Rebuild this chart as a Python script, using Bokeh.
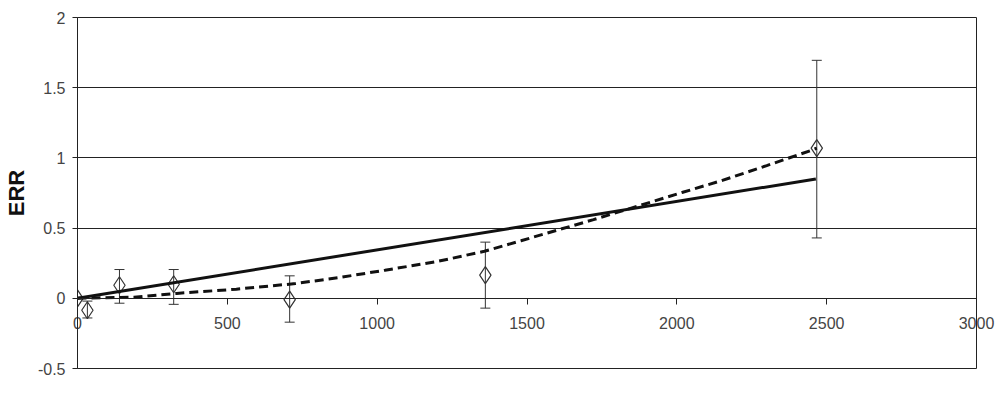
from bokeh.plotting import figure
from bokeh.models import (Whisker, ColumnDataSource, FixedTicker, Label, LinearAxis,
                          Range1d, TeeHead)
from bokeh.embed import file_html
from bokeh.resources import INLINE

# Observed excess relative risk by dose (mGy), with confidence bounds
dose = [0, 33, 140, 321, 708, 1361, 2467]
err = [0, -0.085, 0.093, 0.10, -0.01, 0.165, 1.07]
err_upper = [0, -0.02, 0.205, 0.205, 0.16, 0.40, 1.695]
err_lower = [0, -0.14, -0.035, -0.043, -0.17, -0.07, 0.43]

# Linear fit (solid)
linear_dose = [0, 2464]
linear_err = [0, 0.85]

# Curvilinear fit (dashed)
curve_dose = [0, 189, 331, 530, 728, 880, 1026, 1200, 1358, 1480, 1600, 1722, 1821, 2020, 2152, 2300, 2450, 2467]
curve_err = [0, 0.008, 0.035, 0.065, 0.105, 0.15, 0.2, 0.262, 0.335, 0.41, 0.485, 0.56, 0.625, 0.755, 0.84, 0.945, 1.055, 1.07]

x_ticks = [0, 500, 1000, 1500, 2000, 2500, 3000]
x_tick_labels = ["0", "500", "1000", "1500", "2000", "2500", "3000"]
y_ticks = [-0.5, 0, 0.5, 1, 1.5, 2]
y_tick_labels = ["-0.5", "0", "0.5", "1", "1.5", "2"]

FONT = "Liberation Sans"
AX = "#222222"

p = figure(width=995, height=409, x_range=Range1d(0, 3000), y_range=Range1d(-0.5, 2),
           output_backend="svg", toolbar_location=None,
           min_border_left=70, min_border_right=19, min_border_top=17, min_border_bottom=41)
p.background_fill_color = "white"
p.border_fill_color = "white"
p.outline_line_color = AX
p.outline_line_width = 1

p.xgrid.visible = False
p.ygrid.ticker = FixedTicker(ticks=y_ticks)
p.ygrid.grid_line_color = AX
p.ygrid.grid_line_width = 1

# x axis line and ticks crossing at y = 0
xa = p.xaxis[0]
xa.fixed_location = 0
xa.ticker = FixedTicker(ticks=x_ticks)
xa.major_tick_in = 0
xa.major_tick_out = 6
xa.minor_tick_line_color = None
xa.axis_line_color = AX
xa.major_tick_line_color = AX
xa.major_label_text_color = None

# x tick labels: a second bottom axis whose labels are lifted to sit under y = 0
xl = LinearAxis(ticker=FixedTicker(ticks=x_ticks),
                major_label_overrides=dict(zip(x_ticks, x_tick_labels)))
xl.axis_line_color = None
xl.major_tick_line_color = None
xl.minor_tick_line_color = None
xl.major_tick_in = 0
xl.major_tick_out = 0
xl.major_label_standoff = -52
xl.major_label_text_font = FONT
xl.major_label_text_font_size = "16px"
xl.major_label_text_color = "#444444"
p.add_layout(xl, "below")

ya = p.yaxis[0]
ya.ticker = FixedTicker(ticks=y_ticks)
ya.major_label_overrides = dict(zip(y_ticks, y_tick_labels))
ya.major_tick_in = 0
ya.major_tick_out = 5
ya.minor_tick_line_color = None
ya.axis_line_color = AX
ya.major_tick_line_color = AX
ya.major_label_standoff = 7
ya.major_label_text_font = FONT
ya.major_label_text_font_size = "16px"
ya.major_label_text_color = "#444444"
ya.axis_label = "ERR"
ya.axis_label_text_font = FONT
ya.axis_label_text_font_size = "22px"
ya.axis_label_text_font_style = "bold"
ya.axis_label_text_color = "#111111"
ya.axis_label_standoff = 6

src = ColumnDataSource(data=dict(dose=dose, err=err, upper=err_upper, lower=err_lower))
wh = Whisker(base="dose", upper="upper", lower="lower", source=src, dimension="height",
             line_color="#333333", line_width=1,
             upper_head=TeeHead(size=10, line_color="#333333", line_width=1),
             lower_head=TeeHead(size=10, line_color="#333333", line_width=1))
p.add_layout(wh)

p.scatter("dose", "err", source=src, marker="diamond", size=17,
          fill_color=None, line_color="#333333", line_width=1.2)

p.line(linear_dose, linear_err, line_color="#111111", line_width=3)
p.line(curve_dose, curve_err, line_color="#111111", line_width=3, line_dash="9 5")

p.add_layout(Label(x=1500, y=-0.5, y_offset=-29, text="mGy", text_align="center",
                   text_baseline="middle", text_font=FONT, text_font_size="18px",
                   text_font_style="bold", text_color="#111111"))

open("out.html", "w").write(file_html(p, INLINE))
